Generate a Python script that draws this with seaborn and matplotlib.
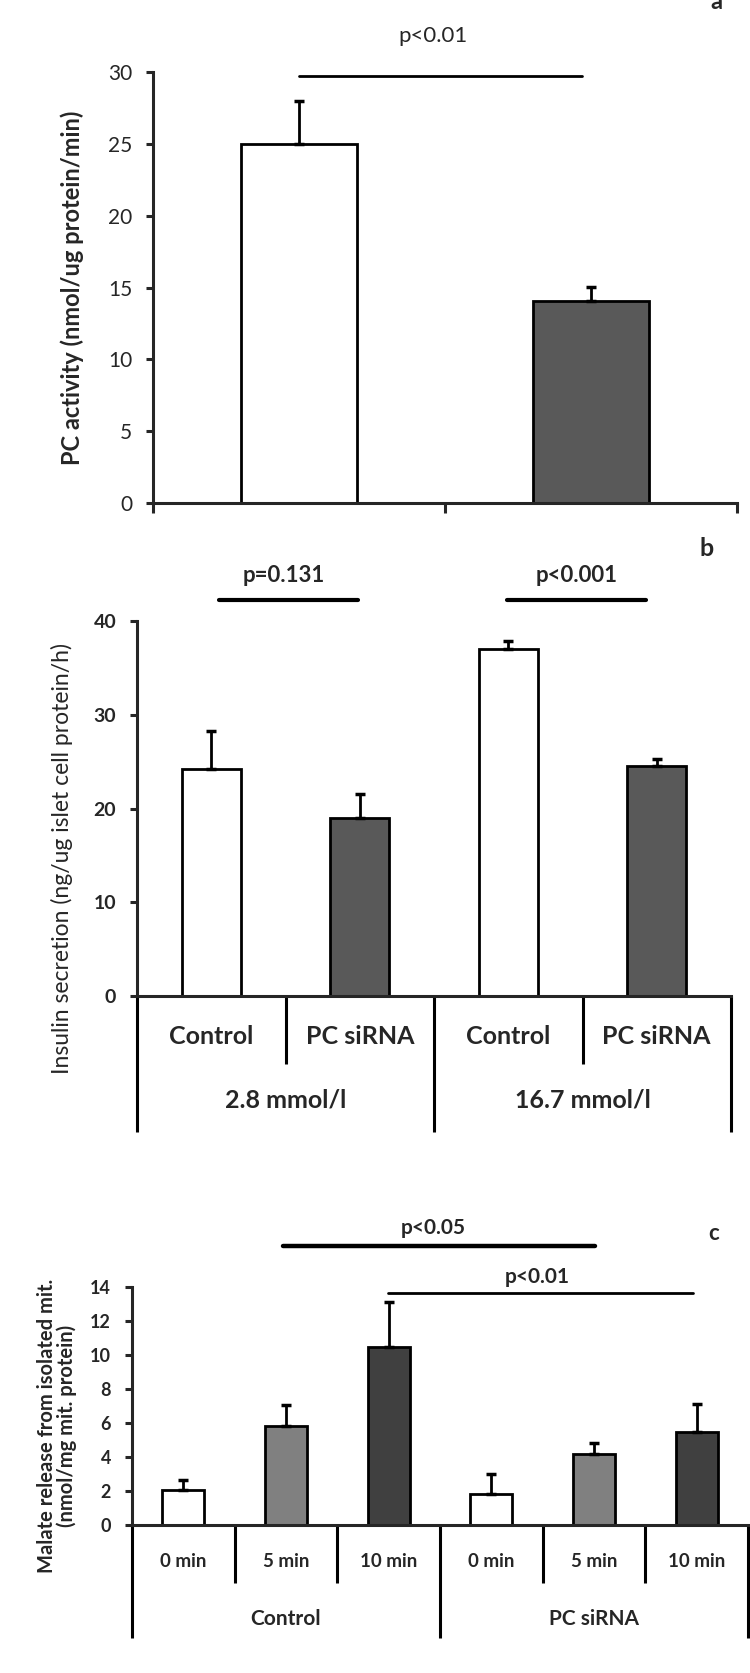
import numpy as np
import matplotlib
matplotlib.use("Agg")
import matplotlib.pyplot as plt
import seaborn as sns

# ---- panel a: PC activity ----
a_ids = ["Control", "PC siRNA"]
a_means = [25.0, 14.05]
a_err = [3.0, 1.0]
a_colors = ["white", "#595959"]

# ---- panel b: insulin secretion ----
b_ids = ["ctl_2.8", "si_2.8", "ctl_16.7", "si_16.7"]
b_labels = ["Control", "PC siRNA", "Control", "PC siRNA"]
b_glucose = ["2.8 mmol/l", "16.7 mmol/l"]
b_means = [24.2, 19.0, 37.0, 24.5]
b_err = [4.1, 2.5, 0.9, 0.75]
b_colors = ["white", "#595959", "white", "#595959"]

# ---- panel c: malate release ----
c_ids = ["ctl_0", "ctl_5", "ctl_10", "si_0", "si_5", "si_10"]
c_times = ["0 min", "5 min", "10 min", "0 min", "5 min", "10 min"]
c_groups = ["Control", "PC siRNA"]
c_means = [2.05, 5.8, 10.5, 1.8, 4.2, 5.5]
c_err = [0.58, 1.25, 2.6, 1.22, 0.62, 1.62]
c_colors = ["white", "#808080", "#404040", "white", "#808080", "#404040"]

sns.set_style("ticks")
plt.rcParams["font.family"] = ["Lato", "DejaVu Sans"]

W, H = 750, 1673
fig = plt.figure(figsize=(W / 100, H / 100), dpi=100)


def box(left, top, right, bottom):
    return [left / W, 1 - bottom / H, (right - left) / W, (bottom - top) / H]


def bars(ax, ids, means, err, colors, width):
    sns.barplot(x=ids, y=means, hue=ids, order=ids, hue_order=ids,
                palette=dict(zip(ids, colors)), legend=False, width=width,
                edgecolor="black", linewidth=2.0, errorbar=None, ax=ax)
    ax.errorbar(np.arange(len(ids)), means, yerr=[np.zeros(len(ids)), err],
                fmt="none", ecolor="black", elinewidth=2.0, capsize=3.5,
                capthick=2.5, zorder=5)
    sns.despine(ax=ax)
    ax.spines["left"].set_linewidth(2.2)
    ax.spines["bottom"].set_linewidth(2.2)
    ax.set_xlabel("")
    ax.set_ylabel("")


def vline(ax, x, y0, y1):
    ax.plot([x, x], [y0, y1], color="black", lw=2.2, clip_on=False,
            solid_capstyle="butt")


# panel a
ax_a = fig.add_axes(box(153, 72, 737, 503))
bars(ax_a, a_ids, a_means, a_err, a_colors, 0.4)
ax_a.set_ylim(0, 30)
ax_a.set_xlim(-0.5, 1.5)
ax_a.set_yticks(range(0, 31, 5))
ax_a.set_xticks([-0.5, 0.5, 1.5])
ax_a.set_xticklabels([])
ax_a.tick_params(axis="y", length=5, width=2.2, pad=10, labelsize=15)
ax_a.tick_params(axis="x", length=7, width=2.2)
ax_a.plot([0.0, 0.97], [29.7, 29.7], color="black", lw=2, clip_on=False)
ax_a.text(0.46, 32.5, "p<0.01", ha="center", va="center", fontsize=16)
fig.text(72 / W, 1 - 288 / H, "PC activity (nmol/ug protein/min)",
         rotation=90, ha="center", va="center", fontsize=17, fontweight="bold")
fig.text(716 / W, 1 - 9 / H, "a", ha="center", va="baseline",
         fontsize=17, fontweight="bold")

# panel b
ax_b = fig.add_axes(box(137, 621, 731, 996))
bars(ax_b, b_ids, b_means, b_err, b_colors, 0.4)
ax_b.set_ylim(0, 40)
ax_b.set_xlim(-0.5, 3.5)
ax_b.set_yticks(range(0, 41, 10))
ax_b.set_xticks([])
ax_b.tick_params(axis="y", length=5, width=2.2, pad=10, labelsize=14)
for lbl in ax_b.get_yticklabels():
    lbl.set_fontweight("bold")
for x in [0.5, 2.5]:
    vline(ax_b, x, 0, -7.25)
for x in [-0.5, 1.5, 3.5]:
    vline(ax_b, x, 0, -14.5)
for i, lbl in enumerate(b_labels):
    ax_b.text(i, -4.37, lbl, ha="center", va="center", fontsize=18,
              fontweight="bold")
for j, g in enumerate(b_glucose):
    ax_b.text(2 * j + 0.5, -11.1, g, ha="center", va="center", fontsize=18,
              fontweight="bold")
ax_b.plot([0.05, 0.99], [42.2, 42.2], color="black", lw=3, clip_on=False)
ax_b.plot([1.99, 2.93], [42.2, 42.2], color="black", lw=3, clip_on=False)
ax_b.text(0.49, 44.8, "p=0.131", ha="center", va="center", fontsize=16,
          fontweight="bold")
ax_b.text(2.46, 44.8, "p<0.001", ha="center", va="center", fontsize=16,
          fontweight="bold")
fig.text(62 / W, 1 - 858 / H, "Insulin secretion (ng/ug islet cell protein/h)",
         rotation=90, ha="center", va="center", fontsize=16.5)
fig.text(707 / W, 1 - 548 / H, "b", ha="center", va="center",
         fontsize=18, fontweight="bold")

# panel c
ax_c = fig.add_axes(box(132, 1287, 748, 1525))
bars(ax_c, c_ids, c_means, c_err, c_colors, 0.41)
ax_c.set_ylim(0, 14)
ax_c.set_xlim(-0.5, 5.5)
ax_c.set_yticks(range(0, 15, 2))
ax_c.set_xticks([])
ax_c.tick_params(axis="y", length=5, width=2.2, pad=10, labelsize=13)
for lbl in ax_c.get_yticklabels():
    lbl.set_fontweight("bold")
for x in [0.5, 1.5, 3.5, 4.5]:
    vline(ax_c, x, 0, -3.41)
for x in [-0.5, 2.5, 5.5]:
    vline(ax_c, x, 0, -6.65)
for i, t in enumerate(c_times):
    ax_c.text(i, -2.12, t, ha="center", va="center", fontsize=13.5,
              fontweight="bold")
for j, g in enumerate(c_groups):
    ax_c.text(3 * j + 1, -5.53, g, ha="center", va="center", fontsize=15,
              fontweight="bold")
ax_c.plot([0.97, 4.01], [16.4, 16.4], color="black", lw=3.2, clip_on=False)
ax_c.plot([1.99, 4.96], [13.65, 13.65], color="black", lw=2, clip_on=False)
ax_c.text(2.43, 17.5, "p<0.05", ha="center", va="center", fontsize=15,
          fontweight="bold")
ax_c.text(3.45, 14.6, "p<0.01", ha="center", va="center", fontsize=15,
          fontweight="bold")
fig.text(57 / W, 1 - 1426 / H,
         "Malate release from isolated mit.\n(nmol/mg mit. protein)",
         rotation=90, ha="center", va="center", fontsize=14.5,
         fontweight="bold", linespacing=0.95, multialignment="center")
fig.text(714 / W, 1 - 1233 / H, "c", ha="center", va="center",
         fontsize=16, fontweight="bold")

fig.savefig("out.png", dpi=100)
